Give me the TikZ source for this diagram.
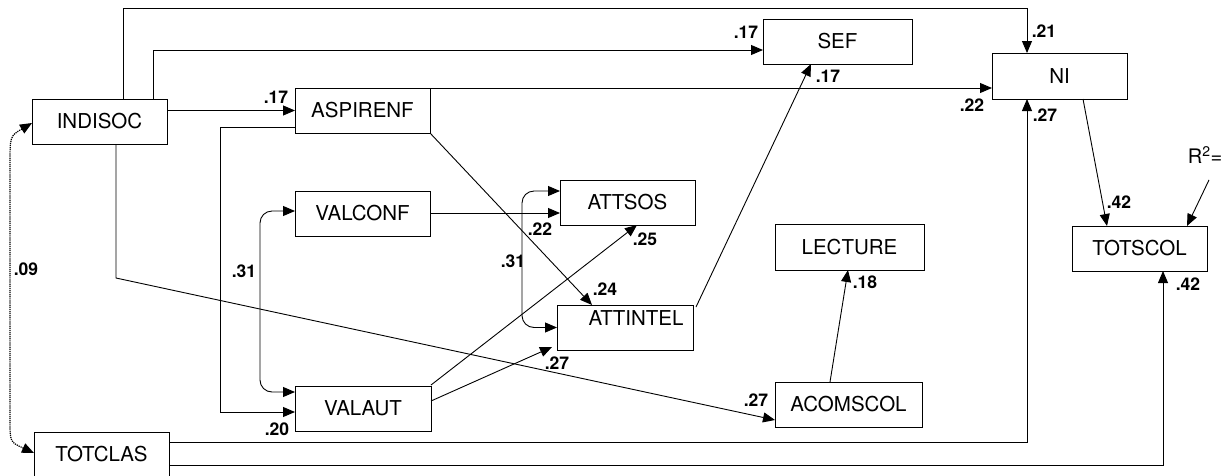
\documentclass[tikz,border=0pt]{standalone}
\usepackage{fontspec}
\setmainfont{TeX Gyre Heros}
\usetikzlibrary{arrows.meta}
\begin{document}
\begin{tikzpicture}[x=1pt,y=-1pt,
  box/.style={draw, line width=0.9pt, rectangle, inner sep=0pt, outer sep=0pt,
    minimum height=45pt, minimum width=135pt, font=\fontsize{20.5}{24}\selectfont},
  coef/.style={font=\bfseries\fontsize{17.5}{20}\selectfont, inner sep=0pt},
  tip/.style={Triangle[length=12pt,width=10pt]},
  arr/.style={line width=0.9pt, -{Triangle[length=12pt,width=10pt]}},
  darr/.style={line width=0.9pt, {Triangle[length=12pt,width=10pt]}-{Triangle[length=12pt,width=10pt]}, rounded corners=12pt},
  dotarr/.style={line width=1.2pt, dash pattern=on 1.2pt off 0.9pt, {Triangle[length=12pt,width=10pt]}-{Triangle[length=12pt,width=10pt]}}
]
\useasboundingbox (0,0) rectangle (1229,475);

% nodes
\node[box] (indisoc) at (99.5,121.5) {INDISOC};
\node[box] (aspirenf) at (362.5,110.5) {ASPIRENF};
\node[box] (valconf) at (362.5,213.5) {VALCONF};
\node[box, minimum width=136pt] (valaut) at (363,408.5) {VALAUT};
\node[box, minimum width=149pt] (sef) at (837.5,41.5) {SEF};
\node[box, minimum height=46pt] (ni) at (1059.5,76) {NI};
\node[box] (attsos) at (627.5,202.5) {ATTSOS};
\node[box, minimum width=136pt] (attintel) at (625,327.5) {\hspace*{22pt}\raisebox{9.5pt}[\height][\depth]{ATTINTEL}};
\node[box, minimum width=149pt, minimum height=46pt] (lecture) at (849.5,247) {LECTURE};
\node[box, minimum width=147pt] (acomscol) at (848.5,404.5) {ACOMSCOL};
\node[box] (totscol) at (1139.5,248.5) {TOTSCOL};
\node[box] (totclas) at (101.5,454.5) {TOTCLAS};
\node[font=\fontsize{20}{24}\selectfont, inner sep=0pt] (r2) at (1205,155) {R\textsuperscript{2}=};

% connectors
\draw[arr] ([xshift=23.5pt]indisoc.north) -- ++(0,-91) -| ([xshift=-32.5pt]ni.north);
\draw[arr] ([xshift=53.5pt]indisoc.north) |- ([yshift=-8.5pt]sef.west);
\draw[arr] ([yshift=11pt]indisoc.east) -- (aspirenf.west);
\draw[arr] (aspirenf.north east) -- (aspirenf.north east -| ni.west);
\draw[arr] ([yshift=-16.5pt]aspirenf.west) -- ++(-75,0) |- ([yshift=-3.5pt]valaut.west);
\draw[darr] ([yshift=2.5pt]valconf.west) -| ++(-35,90) |- ([yshift=16.5pt]valaut.west);
\draw[arr] ([xshift=16.5pt]indisoc.south) -- ++(0,134) -- ([yshift=-15.5pt]acomscol.west);
\draw[arr] ([yshift=0.5pt]valconf.east) -- ([yshift=-10.5pt]attsos.west);
\draw[darr] ([yshift=11.5pt]attsos.west) -| ++(-38,60) |- (attintel.west);
\draw[arr] (aspirenf.south east) -- ([xshift=-33pt]attintel.north);
\draw[arr] ([yshift=23.5pt]valaut.east) -- ([xshift=9.5pt]attsos.south);
\draw[arr] ([yshift=7.5pt]valaut.east) -- ([shift={(-5pt,3pt)}]attintel.south west);
\draw[arr] ([shift={(3pt,-2pt)}]attintel.north east) -- ([xshift=-26.5pt]sef.south);
\draw[arr] ([xshift=-18.5pt]acomscol.north) -- ([xshift=-1.5pt]lecture.south);
\draw[arr] ([yshift=12.5pt]totclas.east) -| ([xshift=-32.5pt]ni.south);
\draw[arr] ([yshift=-10.5pt]totclas.east) -| ([xshift=23.5pt]totscol.south);
\draw[arr] ([xshift=23.5pt]ni.south) -- ([xshift=-32.5pt]totscol.north);
\draw[arr] ([shift={(4pt,-16pt)}]r2.south) -- ([xshift=47.5pt]totscol.north);
\draw[dotarr] ([yshift=-1.5pt]indisoc.west) .. controls (10,136) .. (10,165) -- (10,420) .. controls (10,442) .. ([yshift=1.5pt]totclas.west);

% coefficients
\node[coef] (c1) at (1044,31) {.21};
\node[coef] (c2) at (746,32) {.17};
\node[coef] (c3) at (276,97) {.17};
\node[coef] (c4) at (828,76) {.17};
\node[coef] (c5) at (972,105) {.22};
\node[coef] (c6) at (1045,115) {.27};
\node[coef] (c7) at (1119,202) {.42};
\node[coef] (c8) at (540,229) {.22};
\node[coef] (c9) at (645,239) {.25};
\node[coef] (c10) at (513,261) {.31};
\node[coef] (c11) at (605,289) {.24};
\node[coef] (c12) at (557,363) {.27};
\node[coef] (c13) at (244,271) {.31};
\node[coef] (c14) at (277,429) {.20};
\node[coef] (c15) at (26,269) {.09};
\node[coef] (c16) at (756,400) {.27};
\node[coef] (c17) at (865,282) {.18};
\node[coef] (c18) at (1188,284) {.42};
\end{tikzpicture}
\end{document}
